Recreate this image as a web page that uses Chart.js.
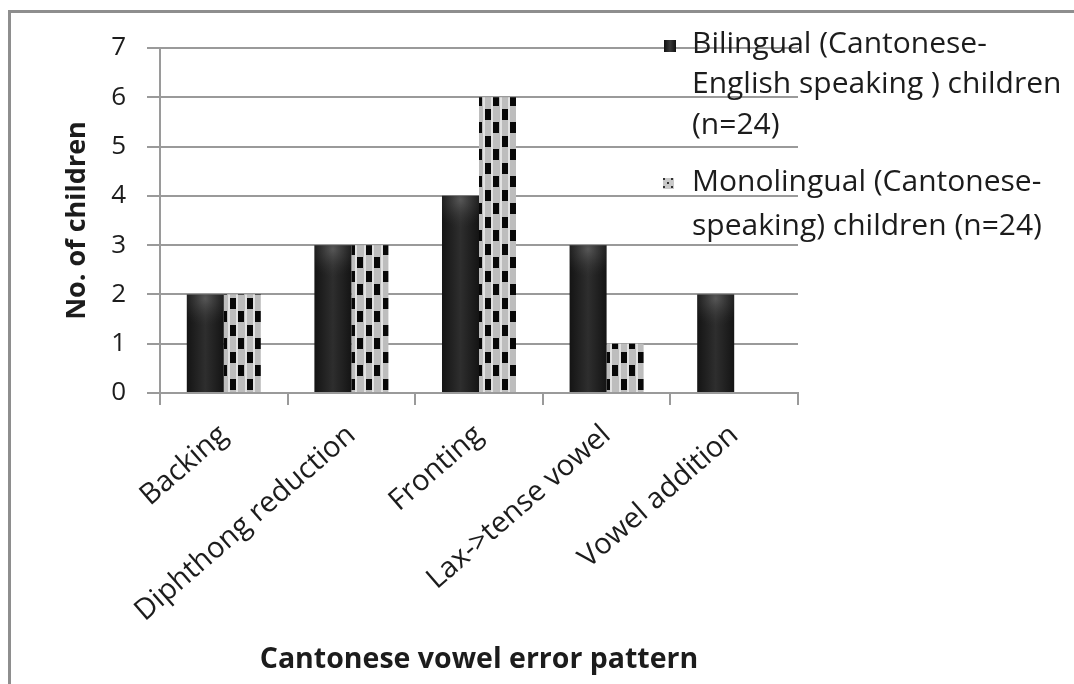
<!DOCTYPE html>
<html>
<head>
<meta charset="utf-8">
<script src="https://cdn.jsdelivr.net/npm/chart.js@4.4.1/dist/chart.umd.min.js"></script>
<style>
  html, body { margin: 0; padding: 0; background: #fff; }
  #wrap { position: relative; width: 1074px; height: 684px; overflow: hidden; }
  #frame { position: absolute; left: 8px; top: 10px; right: -4px; bottom: -4px;
           border-left: 3px solid #8e8e8e; border-top: 3px solid #8e8e8e; }
  #c { position: absolute; left: 0; top: 0; }
</style>
</head>
<body>
<div id="wrap">
  <div id="frame"></div>
  <canvas id="c" width="1074" height="684"></canvas>
</div>
<script>
// Error patterns on the category axis
const categories = ['Backing', 'Diphthong reduction', 'Fronting', 'Lax->tense vowel', 'Vowel addition'];
// Number of children showing each pattern
const bilingualCounts = [2, 3, 4, 3, 2];
const monolingualCounts = [2, 3, 6, 1, 0];
// Legend text, one entry per line
const bilingualLegend = ['Bilingual (Cantonese-', 'English speaking ) children', '(n=24)'];
const monolingualLegend = ['Monolingual (Cantonese-', 'speaking) children (n=24)'];
// Value axis ticks
const yTicks = [0, 1, 2, 3, 4, 5, 6, 7];

const FONT = '"Open Sans", Lato, sans-serif';
const CAT_PCT = 0.58;
const GRID = '#9a9a9a';
const INK = '#1c1c1c';

// Checkered fill for the monolingual series
function makeCheckerPattern(ctx) {
  const t = document.createElement('canvas');
  t.width = 17; t.height = 27;
  const g = t.getContext('2d');
  g.fillStyle = '#bdbdbd';
  g.fillRect(0, 0, 17, 27);
  g.fillStyle = '#e2e2e2';
  g.fillRect(7, 0, 2, 27);
  g.fillRect(15, 0, 2, 27);
  g.fillStyle = '#080808';
  g.fillRect(9, 1, 6, 11);
  g.fillRect(0, 14, 6, 11);
  return ctx.createPattern(t, 'repeat');
}

// Dark fill with a lighter centre band for the bilingual series
function barGradient(context) {
  const chart = context.chart;
  const xs = chart.scales.x;
  if (!xs || context.dataIndex === undefined) return '#222';
  const cw = (xs.right - xs.left) / categories.length;
  const bw = cw * CAT_PCT / 2;
  const cx = xs.getPixelForValue(context.dataIndex) - bw / 2;
  if (!isFinite(cx) || !isFinite(bw) || bw <= 0) return '#222';
  const gr = chart.ctx.createLinearGradient(cx - bw / 2, 0, cx + bw / 2, 0);
  gr.addColorStop(0, '#141414');
  gr.addColorStop(0.5, '#2e2e2e');
  gr.addColorStop(1, '#141414');
  return gr;
}

// Soft highlight near the top of each dark bar
const barShine = {
  id: 'barShine',
  afterDatasetsDraw(chart) {
    const meta = chart.getDatasetMeta(0);
    const ctx = chart.ctx;
    meta.data.forEach(bar => {
      const { x, y, width, base } = bar.getProps(['x', 'y', 'width', 'base'], true);
      if (![x, y, width, base].every(isFinite) || base - y < 4) return;
      ctx.save();
      ctx.beginPath();
      ctx.rect(x - width / 2, y, width, base - y);
      ctx.clip();
      const rg = ctx.createRadialGradient(x, y + 4, 0, x, y + 4, width * 0.75);
      rg.addColorStop(0, 'rgba(120,120,120,0.55)');
      rg.addColorStop(1, 'rgba(60,60,60,0)');
      ctx.fillStyle = rg;
      ctx.fillRect(x - width / 2, y, width, 40);
      ctx.restore();
    });
  }
};

// Legend to the right, over the grid
const sideLegend = {
  id: 'sideLegend',
  afterDraw(chart) {
    const ctx = chart.ctx;
    ctx.save();
    ctx.font = '30px ' + FONT;
    ctx.textBaseline = 'middle';
    ctx.textAlign = 'left';
    const tx = 692;
    // dark swatch
    const sg = ctx.createLinearGradient(664, 0, 676, 0);
    sg.addColorStop(0, '#111'); sg.addColorStop(0.5, '#3a3a3a'); sg.addColorStop(1, '#111');
    ctx.fillStyle = sg;
    ctx.fillRect(664, 40, 12, 12);
    ctx.fillStyle = INK;
    bilingualLegend.forEach((s, i) => ctx.fillText(s, tx, 44 + i * 40.5));
    // checkered swatch
    ctx.fillStyle = '#c8c8c8';
    ctx.fillRect(663, 178, 11, 11);
    ctx.fillStyle = '#333';
    [[663,178],[667,182],[671,178],[663,186],[671,186]].forEach(p => ctx.fillRect(p[0], p[1], 2, 2));
    ctx.fillStyle = INK;
    monolingualLegend.forEach((s, i) => ctx.fillText(s, tx, 182 + i * 44));
    ctx.restore();
  }
};

const cctx = document.getElementById('c').getContext('2d');
const checker = makeCheckerPattern(cctx);

new Chart(cctx, {
  type: 'bar',
  data: {
    labels: categories,
    datasets: [
      { label: bilingualLegend.join(' '), data: bilingualCounts, backgroundColor: barGradient, borderWidth: 0 },
      { label: monolingualLegend.join(' '), data: monolingualCounts, backgroundColor: checker, borderWidth: 0 }
    ]
  },
  options: {
    responsive: false,
    animation: false,
    events: [],
    datasets: { bar: { barPercentage: 1, categoryPercentage: CAT_PCT } },
    layout: { padding: { left: 0, top: 48, right: 276, bottom: 0 } },
    plugins: { legend: { display: false }, tooltip: { enabled: false } },
    scales: {
      x: {
        afterFit(scale) { scale.height = 291; },
        grid: { offset: true, drawOnChartArea: false, drawTicks: true, tickLength: 12, color: GRID, lineWidth: 2 },
        border: { display: true, color: GRID, width: 2 },
        ticks: { color: INK, font: { family: FONT, size: 29 }, minRotation: 41, maxRotation: 41, padding: 13, autoSkip: false },
        title: { display: true, text: 'Cantonese vowel error pattern', color: INK,
                 font: { family: FONT, size: 28.5, weight: 'bold' }, padding: { top: 0, bottom: 7 } }
      },
      y: {
        min: 0, max: 7,
        afterFit(scale) { scale.width = 160; },
        afterBuildTicks(scale) { scale.ticks = yTicks.map(v => ({ value: v })); },
        grid: { color: GRID, lineWidth: 2, tickLength: 13 },
        border: { display: true, color: GRID, width: 2 },
        ticks: { color: INK, font: { family: FONT, size: 26 }, padding: 21 },
        title: { display: true, text: 'No. of children', color: INK,
                 font: { family: FONT, size: 27, weight: 'bold' }, padding: { top: 61, bottom: 0 } }
      }
    }
  },
  plugins: [barShine, sideLegend]
});
</script>
</body>
</html>
